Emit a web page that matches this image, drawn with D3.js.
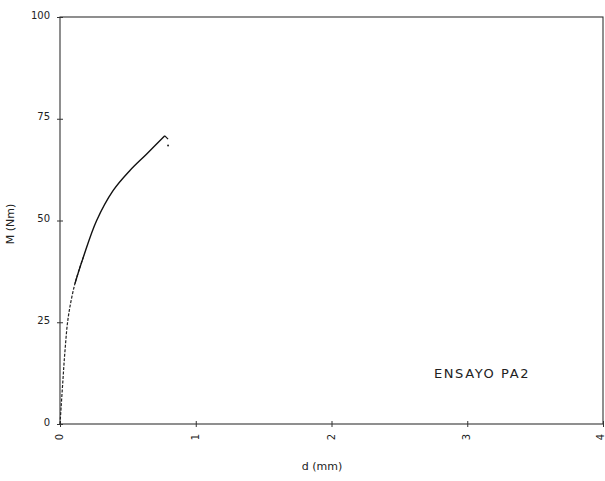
<!DOCTYPE html>
<html>
<head>
<meta charset="utf-8">
<script src="https://cdn.jsdelivr.net/npm/d3@7"></script>
<style>
  html, body { margin: 0; padding: 0; background: #fff; }
  svg { display: block; }
  text { font-family: "DejaVu Sans", sans-serif; fill: #222; }
</style>
</head>
<body>
<svg id="chart" width="605" height="481"></svg>
<script>
// curve: d (mm) vs M (Nm)
const dValues = [0, 0.02, 0.037, 0.061, 0.11, 0.172, 0.27, 0.392, 0.515, 0.637, 0.772, 0.796, 0.796];
const mValues = [0, 10, 18.1, 26.3, 34.5, 41, 50, 57.4, 62.3, 66.3, 70.8, 70, 68.4];
const xTicks = [0, 1, 2, 3, 4];
const yTicks = [0, 25, 50, 75, 100];
const xLabel = 'd (mm)';
const yLabel = 'M (Nm)';
const note = 'ENSAYO PA2';

const svg = d3.select('#chart');
const x = d3.scaleLinear().domain([0, 4]).range([60, 603]);
const y = d3.scaleLinear().domain([0, 100]).range([424, 17]);

// frame
svg.append('rect')
  .attr('x', x(0)).attr('y', y(100))
  .attr('width', x(4) - x(0)).attr('height', y(0) - y(100))
  .attr('fill', 'none').attr('stroke', '#333').attr('stroke-width', 1.1);

// y axis, ticks crossing the line
const gy = svg.append('g')
  .attr('transform', `translate(${x(0)},0)`)
  .call(d3.axisLeft(y).tickValues(yTicks).tickFormat(d3.format('d')).tickSize(3).tickPadding(7));
gy.select('.domain').remove();
gy.selectAll('.tick line').attr('x2', 3).attr('x1', -3).attr('stroke', '#333');
gy.selectAll('.tick text')
  .style('font-size', '10px')
  .attr('dy', '0.1em')
  .style('fill', '#222');

// x axis, labels turned on their side
const gx = svg.append('g')
  .attr('transform', `translate(0,${y(0)})`)
  .call(d3.axisBottom(x).tickValues(xTicks).tickFormat(d3.format('d')).tickSize(3));
gx.select('.domain').remove();
gx.selectAll('.tick line').attr('y1', -3).attr('y2', 3).attr('stroke', '#333');
gx.selectAll('.tick text')
  .style('font-size', '10px')
  .style('fill', '#222')
  .attr('text-anchor', 'middle')
  .attr('transform', d => `translate(${d === 4 ? -3 : -1},13) rotate(-90)`)
  .attr('x', 0).attr('y', 0).attr('dy', '0.35em');

// curve: dashed-looking lower part, solid upper part, short hook at the end
const idx = dValues.map((d, i) => i);
const curveLine = d3.line()
  .x(i => x(dValues[i]))
  .y(i => y(mValues[i]))
  .curve(d3.curveCatmullRom);

svg.append('path')
  .datum(idx.slice(0, 6))
  .attr('d', curveLine)
  .attr('fill', 'none')
  .attr('stroke', '#222')
  .attr('stroke-width', 1.2)
  .attr('stroke-dasharray', '3,1.5');

svg.append('path')
  .datum(idx.slice(4, 11))
  .attr('d', curveLine)
  .attr('fill', 'none')
  .attr('stroke', '#111')
  .attr('stroke-width', 1.4);

svg.append('path')
  .datum(idx.slice(10, 12))
  .attr('d', d3.line().x(i => x(dValues[i])).y(i => y(mValues[i])))
  .attr('fill', 'none')
  .attr('stroke', '#111')
  .attr('stroke-width', 1.2);

svg.append('circle')
  .attr('cx', x(dValues[12])).attr('cy', y(mValues[12]))
  .attr('r', 1).attr('fill', '#222');

// axis titles
svg.append('text')
  .attr('x', 322).attr('y', 470)
  .attr('text-anchor', 'middle')
  .style('font-size', '11px')
  .text(xLabel);

svg.append('text')
  .attr('transform', 'translate(14,224) rotate(-90)')
  .attr('text-anchor', 'middle')
  .style('font-size', '11px')
  .text(yLabel);

svg.append('text')
  .attr('x', 482).attr('y', 378)
  .attr('text-anchor', 'middle')
  .style('font-size', '13px')
  .style('letter-spacing', '1.6px')
  .text(note);
</script>
</body>
</html>
